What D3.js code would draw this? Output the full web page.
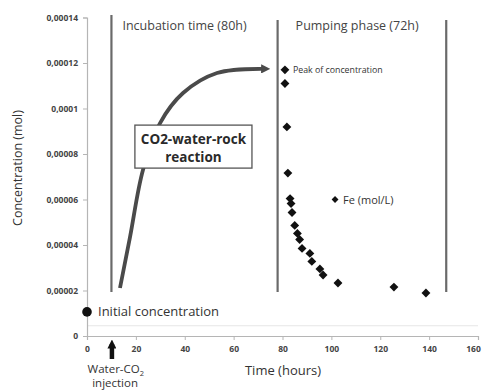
<!DOCTYPE html>
<html>
<head>
<meta charset="utf-8">
<script src="https://cdn.jsdelivr.net/npm/d3@7"></script>
<style>
  html, body { margin: 0; padding: 0; background: #fff; }
  svg { display: block; }
  text { font-family: "Open Sans", Lato, sans-serif; }
</style>
</head>
<body>
<svg id="chart" width="483" height="392"></svg>
<script>
// Fe concentration during the pumping phase (time in hours, concentration in mol)
const pumpTime = [81.0, 81.0, 81.8, 82.2, 83.1, 83.5, 83.9, 85.0, 86.1, 87.0, 88.0, 91.2, 92.0, 95.3, 96.6, 102.7, 125.6, 138.7];
const pumpConc = [0.000117, 0.000111, 0.0000919, 0.0000716, 0.0000604, 0.0000582, 0.0000543, 0.0000486, 0.0000451, 0.0000424, 0.0000385, 0.0000363, 0.0000328, 0.0000295, 0.0000268, 0.0000233, 0.0000215, 0.0000189];

// initial concentration before incubation
const initialTime = [0];
const initialConc = [0.0000106];

// phase boundaries (hours)
const phaseBounds = [10, 78, 147];

// sketch of the concentration rise during incubation (hours, mol)
const riseTime = [13.5, 17.6, 22.9, 29.9, 39.3, 53.2, 72.0];
const riseConc = [0.0000211, 0.0000435, 0.000073, 0.0000936, 0.0001068, 0.0001156, 0.0001174];

const xTicks = [0, 20, 40, 60, 80, 100, 120, 140, 160];
const yTicks = [0, 0.00002, 0.00004, 0.00006, 0.00008, 0.0001, 0.00012, 0.00014];
const yTickLabels = ["0", "0,00002", "0,00004", "0,00006", "0,00008", "0,0001", "0,00012", "0,00014"];

const svg = d3.select("#chart");
const x = d3.scaleLinear().domain([0, 160]).range([87, 478]);
const y = d3.scaleLinear().domain([0, 0.00014]).range([336, 17.5]);

// faint reference line just above the time axis
svg.append("line")
  .attr("x1", x(0)).attr("x2", x(160))
  .attr("y1", y(0.0000045)).attr("y2", y(0.0000045))
  .attr("stroke", "#e6e6e6").attr("stroke-width", 1);

// axes
const xAxis = svg.append("g")
  .attr("transform", `translate(0,${y(0)})`)
  .call(d3.axisBottom(x).tickValues(xTicks).tickSize(4).tickPadding(6).tickFormat(d3.format("d")));
const yAxis = svg.append("g")
  .attr("transform", `translate(${x(0)},0)`)
  .call(d3.axisLeft(y).tickValues(yTicks).tickSize(4).tickPadding(5)
    .tickFormat((d, i) => yTickLabels[i]));
[xAxis, yAxis].forEach(g => {
  g.select(".domain").attr("stroke", "#b5b5b5").attr("stroke-width", 1.2);
  g.selectAll(".tick line").attr("stroke", "#b5b5b5");
  g.selectAll(".tick text").attr("fill", "#444").attr("font-size", 8.5).attr("font-weight", "bold")
    .attr("font-family", "Lato, sans-serif");
});
// keep the last time label inside the frame
xAxis.selectAll(".tick text").filter(d => d === 160).attr("dx", -5);

// phase boundary lines
svg.selectAll("line.phase").data(phaseBounds).join("line")
  .attr("class", "phase")
  .attr("x1", d => x(d)).attr("x2", d => x(d))
  .attr("y1", (d, i) => i === 0 ? 15 : 20).attr("y2", 292)
  .attr("stroke", "#6a6a6a").attr("stroke-width", 2.2);

// phase titles
svg.append("text").attr("x", x(phaseBounds[0]) + 11).attr("y", 30)
  .attr("font-size", 12.5).attr("fill", "#444").text("Incubation time (80h)");
svg.append("text").attr("x", x(phaseBounds[1]) + 18).attr("y", 30)
  .attr("font-size", 12.5).attr("fill", "#444").text("Pumping phase (72h)");

// rising curve with arrow head
const defs = svg.append("defs");
defs.append("marker").attr("id", "head")
  .attr("viewBox", "0 0 10 10").attr("refX", 2).attr("refY", 5)
  .attr("markerWidth", 2.4).attr("markerHeight", 2.4).attr("orient", "auto")
  .append("path").attr("d", "M0,0 L10,5 L0,10 Z").attr("fill", "#4a4a4a");
const riseLine = d3.line().x(d => x(d[0])).y(d => y(d[1])).curve(d3.curveCatmullRom.alpha(0.5));
svg.append("path")
  .datum(riseTime.map((t, i) => [t, riseConc[i]]))
  .attr("d", riseLine)
  .attr("fill", "none").attr("stroke", "#4a4a4a").attr("stroke-width", 3.8)
  .attr("marker-end", "url(#head)");

// reaction label box
const bx = x(19.6), bx2 = x(67.5), by = y(0.0000927), by2 = y(0.0000738);
svg.append("rect").attr("x", bx).attr("y", by).attr("width", bx2 - bx).attr("height", by2 - by)
  .attr("fill", "#fff").attr("stroke", "#555").attr("stroke-width", 1.3);
svg.append("text").attr("x", (bx + bx2) / 2).attr("y", by + 19).attr("text-anchor", "middle")
  .attr("font-size", 13.5).attr("font-weight", "bold").attr("fill", "#2a2a2a").text("CO2-water-rock");
svg.append("text").attr("x", (bx + bx2) / 2).attr("y", by + 37).attr("text-anchor", "middle")
  .attr("font-size", 13.5).attr("font-weight", "bold").attr("fill", "#2a2a2a").text("reaction");

// pumping data points
const diamond = d3.symbol().type(d3.symbolDiamond2).size(50);
svg.selectAll("path.fe").data(pumpTime.map((t, i) => [t, pumpConc[i]])).join("path")
  .attr("class", "fe")
  .attr("transform", d => `translate(${x(d[0])},${y(d[1])})`)
  .attr("d", diamond).attr("fill", "#111");

svg.append("text").attr("x", x(pumpTime[0]) + 8).attr("y", y(pumpConc[0]) + 3)
  .attr("font-size", 8.8).attr("fill", "#333").text("Peak of concentration");

// legend
svg.append("path").attr("transform", `translate(${x(101.5)},${y(0.00006)})`)
  .attr("d", d3.symbol().type(d3.symbolDiamond2).size(30)).attr("fill", "#111");
svg.append("text").attr("x", x(101.5) + 8).attr("y", y(0.00006) + 4)
  .attr("font-size", 11).attr("fill", "#333").text("Fe (mol/L)");

// initial concentration
svg.selectAll("circle.init").data(initialTime).join("circle")
  .attr("class", "init")
  .attr("cx", d => x(d)).attr("cy", (d, i) => y(initialConc[i])).attr("r", 4.8).attr("fill", "#111");
svg.append("text").attr("x", x(initialTime[0]) + 11).attr("y", y(initialConc[0]) + 4.5)
  .attr("font-size", 13).attr("fill", "#333").text("Initial concentration");

// injection arrow below the time axis
defs.append("marker").attr("id", "up")
  .attr("viewBox", "0 0 10 10").attr("refX", 5).attr("refY", 5)
  .attr("markerWidth", 2).attr("markerHeight", 2).attr("orient", "auto")
  .append("path").attr("d", "M0,0 L10,5 L0,10 Z").attr("fill", "#111");
svg.append("line").attr("x1", x(10.2)).attr("x2", x(10.2)).attr("y1", 359).attr("y2", 344)
  .attr("stroke", "#111").attr("stroke-width", 4.5).attr("marker-end", "url(#up)");

const inj = svg.append("text").attr("x", x(11.8)).attr("y", 373).attr("text-anchor", "middle")
  .attr("font-size", 11.5).attr("fill", "#333");
inj.append("tspan").text("Water-CO");
inj.append("tspan").attr("font-size", 7.5).attr("dy", 3).text("2");
svg.append("text").attr("x", x(11.5)).attr("y", 387).attr("text-anchor", "middle")
  .attr("font-size", 11.5).attr("fill", "#333").text("injection");

// axis titles
svg.append("text").attr("x", 283).attr("y", 375).attr("text-anchor", "middle")
  .attr("font-size", 13).attr("fill", "#333").text("Time (hours)");
svg.append("text").attr("transform", "translate(22,168) rotate(-90)").attr("text-anchor", "middle")
  .attr("font-size", 12.5).attr("fill", "#333").text("Concentration (mol)");
</script>
</body>
</html>
